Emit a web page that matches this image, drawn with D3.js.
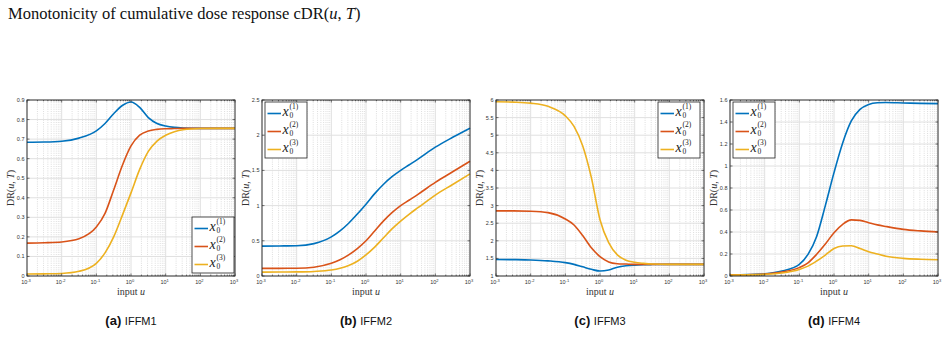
<!DOCTYPE html>
<html>
<head>
<meta charset="utf-8">
<script src="https://cdn.jsdelivr.net/npm/d3@7"></script>
<style>
    body { margin: 0; background: #fff; }
    svg { display: block; }
    .tick-label { font-family: "Liberation Sans", Arial, sans-serif; font-size: 5.5px; fill: #333; }
    .serif { font-family: "Liberation Serif", "Times New Roman", serif; }
</style>
</head>
<body>
<div id="chart"></div>
<script>
// sample points of the input u (log axis)
const inputU = [0.001, 0.00316, 0.01, 0.0316, 0.1, 0.178, 0.316, 0.562, 1, 1.78, 3.16, 5.62, 10, 17.8, 31.6, 100, 316, 1000]

const seriesNames = ['(1)', '(2)', '(3)']
const seriesColors = ['#0072BD', '#D95319', '#EDB120']

// (a) IFFM1
const iffm1_x1 = [0.684, 0.685, 0.689, 0.705, 0.742, 0.78, 0.83, 0.872, 0.89, 0.862, 0.81, 0.78, 0.767, 0.76, 0.757, 0.755, 0.755, 0.755]
const iffm1_x2 = [0.168, 0.17, 0.174, 0.19, 0.25, 0.32, 0.44, 0.565, 0.665, 0.72, 0.742, 0.75, 0.753, 0.754, 0.755, 0.755, 0.755, 0.755]
const iffm1_x3 = [0.01, 0.011, 0.013, 0.024, 0.065, 0.118, 0.2, 0.31, 0.425, 0.545, 0.637, 0.69, 0.72, 0.738, 0.748, 0.754, 0.755, 0.755]

// (b) IFFM2
const iffm2_x1 = [0.425, 0.427, 0.43, 0.46, 0.555, 0.64, 0.75, 0.88, 1.02, 1.17, 1.3, 1.41, 1.5, 1.58, 1.66, 1.83, 1.97, 2.1]
const iffm2_x2 = [0.108, 0.109, 0.11, 0.125, 0.18, 0.23, 0.3, 0.39, 0.5, 0.64, 0.78, 0.9, 1.0, 1.08, 1.16, 1.33, 1.48, 1.63]
const iffm2_x3 = [0.055, 0.056, 0.058, 0.065, 0.085, 0.11, 0.15, 0.21, 0.3, 0.41, 0.54, 0.67, 0.78, 0.88, 0.97, 1.15, 1.3, 1.45]

// (c) IFFM3
const iffm3_x1 = [1.47, 1.465, 1.455, 1.43, 1.38, 1.33, 1.26, 1.19, 1.14, 1.17, 1.25, 1.29, 1.31, 1.32, 1.325, 1.33, 1.33, 1.33]
const iffm3_x2 = [2.85, 2.85, 2.84, 2.8, 2.62, 2.45, 2.15, 1.8, 1.55, 1.4, 1.35, 1.34, 1.33, 1.33, 1.33, 1.33, 1.33, 1.33]
const iffm3_x3 = [5.95, 5.94, 5.91, 5.82, 5.55, 5.25, 4.7, 3.8, 2.6, 1.95, 1.6, 1.45, 1.39, 1.36, 1.34, 1.33, 1.33, 1.33]

// (d) IFFM4
const iffm4_x1 = [0.01, 0.013, 0.02, 0.045, 0.106, 0.197, 0.36, 0.64, 0.94, 1.21, 1.41, 1.515, 1.56, 1.575, 1.577, 1.573, 1.569, 1.567]
const iffm4_x2 = [0.01, 0.012, 0.018, 0.036, 0.076, 0.12, 0.197, 0.29, 0.394, 0.47, 0.51, 0.506, 0.485, 0.465, 0.45, 0.424, 0.41, 0.4]
const iffm4_x3 = [0.008, 0.01, 0.015, 0.028, 0.06, 0.09, 0.136, 0.19, 0.25, 0.273, 0.275, 0.25, 0.22, 0.2, 0.18, 0.16, 0.152, 0.148]

const xTickExponents = ['-3', '-2', '-1', '0', '1', '2', '3']

const panels = [
    { letter: '(a)', name: 'IFFM1', yDomain: [0, 0.9], yTicks: [0, 0.1, 0.2, 0.3, 0.4, 0.5, 0.6, 0.7, 0.8, 0.9], series: [iffm1_x1, iffm1_x2, iffm1_x3], legend: 'br' },
    { letter: '(b)', name: 'IFFM2', yDomain: [0, 2.5], yTicks: [0, 0.5, 1, 1.5, 2, 2.5], series: [iffm2_x1, iffm2_x2, iffm2_x3], legend: 'tl' },
    { letter: '(c)', name: 'IFFM3', yDomain: [1, 6], yTicks: [1, 1.5, 2, 2.5, 3, 3.5, 4, 4.5, 5, 5.5, 6], series: [iffm3_x1, iffm3_x2, iffm3_x3], legend: 'tr' },
    { letter: '(d)', name: 'IFFM4', yDomain: [0, 1.6], yTicks: [0, 0.2, 0.4, 0.6, 0.8, 1, 1.2, 1.4, 1.6], series: [iffm4_x1, iffm4_x2, iffm4_x3], legend: 'tl' }
]

const WIDTH = 948, HEIGHT = 340
const panelLefts = [27, 262, 496, 730]
const plotW = 208, plotTop = 100, plotBottom = 276

const svg = d3.select('#chart').append('svg')
    .attr('width', WIDTH)
    .attr('height', HEIGHT)

// title
const title = svg.append('text')
    .attr('class', 'serif')
    .attr('x', 8)
    .attr('y', 19)
    .attr('font-size', 16.5)
    .attr('fill', '#111')
title.append('tspan').text('Monotonicity of cumulative dose response cDR(')
title.append('tspan').attr('font-style', 'italic').text('u')
title.append('tspan').text(', ')
title.append('tspan').attr('font-style', 'italic').text('T')
title.append('tspan').text(')')

// minor log positions
const minorTicks = []
for (let e = -3; e < 3; e++) {
    for (let m = 2; m <= 9; m++) minorTicks.push(m * Math.pow(10, e))
}

panels.forEach((p, i) => {
    const x0 = panelLefts[i]
    const g = svg.append('g').attr('transform', `translate(${x0}, 0)`)

    const xScale = d3.scaleLog().domain([1e-3, 1e3]).range([0, plotW])
    const yScale = d3.scaleLinear().domain(p.yDomain).range([plotBottom, plotTop])
    const majorX = xScale.ticks().filter(v => Math.abs(Math.log10(v) - Math.round(Math.log10(v))) < 1e-9)

    // grid
    g.selectAll('.minor-grid')
        .data(minorTicks)
        .join('line')
        .attr('class', 'minor-grid')
        .attr('x1', d => xScale(d)).attr('x2', d => xScale(d))
        .attr('y1', plotTop).attr('y2', plotBottom)
        .attr('stroke', '#c8c8c8')
        .attr('stroke-width', 0.6)
        .attr('stroke-dasharray', '1,1.2')
    g.selectAll('.grid-x')
        .data(majorX)
        .join('line')
        .attr('class', 'grid-x')
        .attr('x1', d => xScale(d)).attr('x2', d => xScale(d))
        .attr('y1', plotTop).attr('y2', plotBottom)
        .attr('stroke', '#e0e0e0')
        .attr('stroke-width', 1)
    g.selectAll('.grid-y')
        .data(p.yTicks)
        .join('line')
        .attr('class', 'grid-y')
        .attr('x1', 0).attr('x2', plotW)
        .attr('y1', d => yScale(d)).attr('y2', d => yScale(d))
        .attr('stroke', '#e0e0e0')
        .attr('stroke-width', 1)

    // curves
    const line = d3.line()
        .x(d => xScale(d[0]))
        .y(d => yScale(d[1]))
        .curve(d3.curveMonotoneX)
    p.series.forEach((vals, k) => {
        g.append('path')
            .datum(inputU.map((u, j) => [u, vals[j]]))
            .attr('fill', 'none')
            .attr('stroke', seriesColors[k])
            .attr('stroke-width', 1.6)
            .attr('d', line)
    })

    // ticks inside the box
    const tickG = g.append('g').attr('stroke', '#222').attr('stroke-width', 0.6)
    majorX.forEach(v => {
        tickG.append('line').attr('x1', xScale(v)).attr('x2', xScale(v)).attr('y1', plotBottom).attr('y2', plotBottom - 2.5)
        tickG.append('line').attr('x1', xScale(v)).attr('x2', xScale(v)).attr('y1', plotTop).attr('y2', plotTop + 2.5)
    })
    minorTicks.forEach(v => {
        tickG.append('line').attr('x1', xScale(v)).attr('x2', xScale(v)).attr('y1', plotBottom).attr('y2', plotBottom - 1.3)
        tickG.append('line').attr('x1', xScale(v)).attr('x2', xScale(v)).attr('y1', plotTop).attr('y2', plotTop + 1.3)
    })
    p.yTicks.forEach(v => {
        tickG.append('line').attr('x1', 0).attr('x2', 2.5).attr('y1', yScale(v)).attr('y2', yScale(v))
        tickG.append('line').attr('x1', plotW).attr('x2', plotW - 2.5).attr('y1', yScale(v)).attr('y2', yScale(v))
    })

    // box
    g.append('rect')
        .attr('x', 0).attr('y', plotTop)
        .attr('width', plotW).attr('height', plotBottom - plotTop)
        .attr('fill', 'none')
        .attr('stroke', '#222')
        .attr('stroke-width', 0.9)

    // y tick labels
    g.selectAll('.ylab')
        .data(p.yTicks)
        .join('text')
        .attr('class', 'tick-label')
        .attr('x', -2.5)
        .attr('y', d => yScale(d) + 2)
        .attr('text-anchor', 'end')
        .text(d => d3.format('~g')(d))

    // x tick labels 10^e
    majorX.forEach((v, j) => {
        const t = g.append('text')
            .attr('class', 'tick-label')
            .attr('x', xScale(v) - 1)
            .attr('y', plotBottom + 8)
            .attr('text-anchor', 'middle')
        t.append('tspan').text('10')
        t.append('tspan').attr('dy', -2.5).attr('font-size', 4).text(xTickExponents[j])
    })

    // axis labels
    const xl = g.append('text')
        .attr('class', 'serif')
        .attr('x', plotW / 2)
        .attr('y', plotBottom + 19)
        .attr('text-anchor', 'middle')
        .attr('font-size', 10)
        .attr('fill', '#333')
    xl.append('tspan').text('input ')
    xl.append('tspan').attr('font-style', 'italic').text('u')

    const yl = g.append('text')
        .attr('class', 'serif')
        .attr('transform', `translate(-13.5, ${(plotTop + plotBottom) / 2}) rotate(-90)`)
        .attr('text-anchor', 'middle')
        .attr('font-size', 10)
        .attr('fill', '#333')
    yl.append('tspan').text('DR(')
    yl.append('tspan').attr('font-style', 'italic').text('u')
    yl.append('tspan').text(', ')
    yl.append('tspan').attr('font-style', 'italic').text('T')
    yl.append('tspan').text(')')

    // legend
    const lw = 42, lh = 56
    let lx, ly
    if (p.legend === 'br') { lx = plotW - lw - 1; ly = plotBottom - lh - 3 }
    else if (p.legend === 'tr') { lx = plotW - lw - 4; ly = plotTop + 2 }
    else { lx = 3; ly = plotTop + 2 }
    const lg = g.append('g').attr('transform', `translate(${lx}, ${ly})`)
    lg.append('rect')
        .attr('width', lw).attr('height', lh)
        .attr('fill', '#fff')
        .attr('stroke', '#222')
        .attr('stroke-width', 0.8)
    seriesNames.forEach((s, k) => {
        const cy = 11.5 + k * 18
        lg.append('line')
            .attr('x1', 2.5).attr('x2', 16)
            .attr('y1', cy).attr('y2', cy)
            .attr('stroke', seriesColors[k])
            .attr('stroke-width', 1.6)
        lg.append('text')
            .attr('class', 'serif')
            .attr('x', 17.5)
            .attr('y', cy + 2.8)
            .attr('font-size', 14)
            .attr('font-style', 'italic')
            .attr('fill', '#222')
            .text('x')
        lg.append('text')
            .attr('class', 'serif')
            .attr('x', 24.5)
            .attr('y', cy + 4.6)
            .attr('font-size', 7.5)
            .attr('fill', '#222')
            .text('0')
        lg.append('text')
            .attr('class', 'serif')
            .attr('x', 24.5)
            .attr('y', cy - 4.5)
            .attr('font-size', 7.5)
            .attr('fill', '#222')
            .text(s)
    })

    // caption
    const cap = g.append('text')
        .attr('x', plotW / 2)
        .attr('y', 325)
        .attr('text-anchor', 'middle')
        .attr('fill', '#111')
        .attr('font-family', 'Liberation Sans, Arial, sans-serif')
    cap.append('tspan').attr('font-weight', 'bold').attr('font-size', 13).text(p.letter + ' ')
    cap.append('tspan').attr('font-size', 11).text(p.name)
})
</script>
</body>
</html>
